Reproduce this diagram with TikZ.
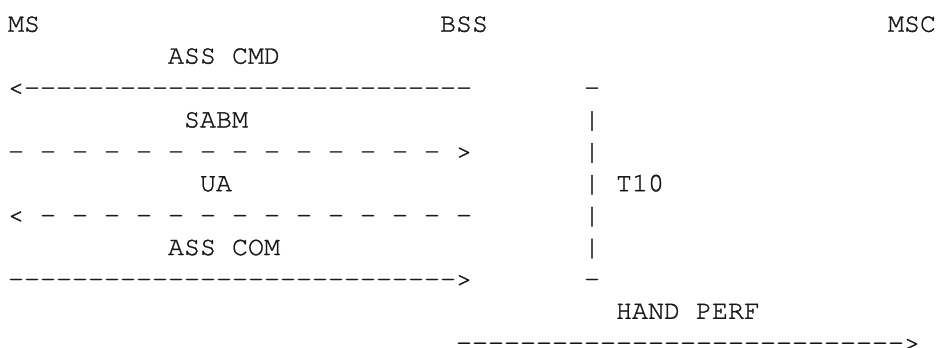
\documentclass[tikz,border=0pt]{standalone}
\usepackage{fontspec}
\newfontfamily\cour{TeX Gyre Cursor}[FakeBold=1.2]
\begin{document}
\begin{tikzpicture}[x=0.75pt,y=-0.75pt,
  txt/.style={anchor=base west,inner sep=0pt,outer sep=0pt,text=black!90,font=\cour\fontsize{20}{24}\selectfont}]
\useasboundingbox (0,0) rectangle (938,347);
\def\X#1{8+16*#1}
\def\Y#1{31.7+31.9*#1}
% line 0
\node[txt] (ms)  at ({\X{0}},{\Y{0}}) {MS};
\node[txt] (bss) at ({\X{27}},{\Y{0}}) {BSS};
\node[txt] (msc) at ({\X{55}},{\Y{0}}) {MSC};
% line 1
\node[txt] (asscmd) at ({\X{10}},{\Y{1}}) {ASS CMD};
% line 2
\node[txt] (a1) at ({\X{0}},{\Y{2}}) {<----------------------------};
\node[txt] (t0) at ({\X{36}},{\Y{2}}) {-};
% line 3
\node[txt] (sabm) at ({\X{11}},{\Y{3}}) {SABM};
\node[txt] (t1) at ({\X{36}},{\Y{3}}) {|};
% line 4
\node[txt] (a2) at ({\X{0}},{\Y{4}}) {- - - - - - - - - - - - - - >};
\node[txt] (t2) at ({\X{36}},{\Y{4}}) {|};
% line 5
\node[txt] (ua) at ({\X{12}},{\Y{5}}) {UA};
\node[txt] (t3) at ({\X{36}},{\Y{5}}) {|};
\node[txt] (t10) at ({\X{38}},{\Y{5}}) {T10};
% line 6
\node[txt] (a3) at ({\X{0}},{\Y{6}}) {< - - - - - - - - - - - - - -};
\node[txt] (t4) at ({\X{36}},{\Y{6}}) {|};
% line 7
\node[txt] (asscom) at ({\X{10}},{\Y{7}}) {ASS COM};
\node[txt] (t5) at ({\X{36}},{\Y{7}}) {|};
% line 8
\node[txt] (a4) at ({\X{0}},{\Y{8}}) {---------------------------->};
\node[txt] (t6) at ({\X{36}},{\Y{8}}) {-};
% line 9
\node[txt] (hand) at ({\X{38}},{\Y{9}}) {HAND PERF};
% line 10
\node[txt] (a5) at ({\X{28}},{\Y{10}}) {---------------------------->};
\end{tikzpicture}
\end{document}
